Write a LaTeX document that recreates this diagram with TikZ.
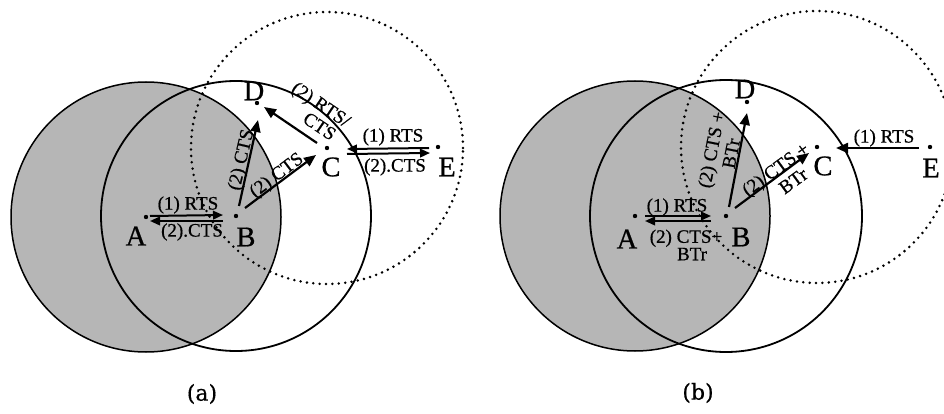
\documentclass[tikz,border=0pt]{standalone}
\usepackage{fontspec}
\setmainfont{Liberation Serif}
\newfontfamily\thickserif[FakeBold=0.7]{Liberation Serif}
\newfontfamily\capfont[FakeBold=0.5]{DejaVu Serif}
\usetikzlibrary{arrows.meta}
\definecolor{shade}{RGB}{182,182,182}
\begin{document}
\begin{tikzpicture}[x=1pt,y=-1pt,
  dot/.style={circle,fill=black,inner sep=0pt,minimum size=4.4pt},
  letter/.style={font=\thickserif\fontsize{28.5}{30}\selectfont,inner sep=0pt},
  lab/.style={font=\thickserif\fontsize{19}{19}\selectfont,inner sep=0pt,align=center},
  captext/.style={font=\capfont\fontsize{22}{24}\selectfont,inner sep=0pt},
  ring/.style={line width=1.8pt},
  shadering/.style={line width=1.5pt,fill=shade},
  dotring/.style={line width=2.8pt,dash pattern=on 0pt off 6.4pt,line cap=round},
  arr/.style={line width=2.2pt,-{Triangle[length=12pt,width=10pt]}},
  darr/.style={line width=2pt,-{Triangle[length=10pt,width=8.5pt]}}]
\clip (0,0) rectangle (944,414);
\useasboundingbox (0,0) rectangle (944,414);

% ---------- panel (a) ----------
\coordinate (pA1) at (146,217);
\coordinate (pB1) at (236,216);
\coordinate (pC1) at (327,148);
\coordinate (pD1) at (257,103);
\coordinate (pE1) at (438,147);
\draw[shadering] (pA1) circle[radius=135pt];
\draw[ring] (pB1) circle[radius=135pt];
\draw[dotring] (pC1) circle[radius=136pt];
\node[dot] (A1) at (pA1) {};
\node[dot] (B1) at (pB1) {};
\node[dot] (C1) at (pC1) {};
\node[dot] (D1) at (pD1) {};
\node[dot] (E1) at (pE1) {};

\draw[darr] ([shift={(4,-1)}]A1.center) -- ([shift={(-13,-1)}]B1.center);
\draw[darr] ([shift={(-13,5)}]B1.center) -- ([shift={(4,4)}]A1.center);
\draw[arr] ([shift={(3,-10)}]B1.center) -- ([shift={(1,17)}]D1.center);
\draw[arr] ([shift={(9,-8)}]B1.center) -- ([shift={(-11,7)}]C1.center);
\draw[arr] ([shift={(-10,-5)}]C1.center) -- ([shift={(7,4)}]D1.center);
\draw[darr] ([shift={(-9,1)}]E1.center) -- ([shift={(20,1)}]C1.center);
\draw[darr] ([shift={(20,6)}]C1.center) -- ([shift={(-8,6)}]E1.center);

\node[letter] (lA1) at (136,236) {A};
\node[letter] (lB1) at (246,237) {B};
\node[letter] (lC1) at (331,167) {C};
\node[letter] (lD1) at (254,91) {D};
\node[letter] (lE1) at (447,167) {E};

\node[lab] (t1) at (188,205) {(1) RTS};
\node[lab] (t2) at (192,232) {(2).CTS};
\node[lab,rotate=77] (t3) at (242,160) {(2) CTS};
\node[lab,rotate=37] (t4) at (277,176) {(2) CTS};
\node[lab,rotate=-34] (t5) at (316,112) {(2) RTS/\\\hspace*{22pt}CTS};
\node[lab] (t7) at (393,137) {(1) RTS};
\node[lab] (t8) at (395,167) {(2).CTS};
\node[captext] (capa) at (202,394) {(a)};

% ---------- panel (b) ----------
\coordinate (pA2) at (635,216);
\coordinate (pB2) at (726,216);
\coordinate (pC2) at (817,147);
\coordinate (pD2) at (747,102);
\coordinate (pE2) at (930,147);
\draw[shadering] (pA2) circle[radius=135pt];
\draw[ring] (pB2) circle[radius=136pt];
\draw[dotring] (pC2) circle[radius=136pt];
\node[dot] (A2) at (pA2) {};
\node[dot] (B2) at (pB2) {};
\node[dot] (C2) at (pC2) {};
\node[dot] (D2) at (pD2) {};
\node[dot] (E2) at (pE2) {};

\draw[darr] ([shift={(10,0)}]A2.center) -- ([shift={(-15,0)}]B2.center);
\draw[darr] ([shift={(-15,5)}]B2.center) -- ([shift={(10,5)}]A2.center);
\draw[arr] ([shift={(3,-9)}]B2.center) -- ([shift={(0,11)}]D2.center);
\draw[arr] ([shift={(9,-8)}]B2.center) -- ([shift={(-8,6)}]C2.center);
\draw[arr] ([shift={(-11,1)}]E2.center) -- ([shift={(19,1)}]C2.center);

\node[letter] (lA2) at (627,239) {A};
\node[letter] (lB2) at (741,237) {B};
\node[letter] (lC2) at (823,166) {C};
\node[letter] (lD2) at (745,89) {D};
\node[letter] (lE2) at (931,168) {E};

\node[lab] (u1) at (677,207) {(1) RTS};
\node[lab,font=\thickserif\fontsize{19}{16}\selectfont] (u2) at (686,245) {(2) CTS+\\\hspace*{12pt}BTr};
\node[lab,rotate=79,font=\thickserif\fontsize{19}{20}\selectfont] (u4) at (721,151.5) {(2) CTS +\\BTr};
\node[lab,rotate=36,font=\thickserif\fontsize{19}{20}\selectfont] (u6) at (781,177) {(2) CTS +\\\hspace*{15pt}BTr};
\node[lab] (u8) at (884,138) {(1) RTS};
\node[captext] (capb) at (698,393) {(b)};
\end{tikzpicture}
\end{document}
